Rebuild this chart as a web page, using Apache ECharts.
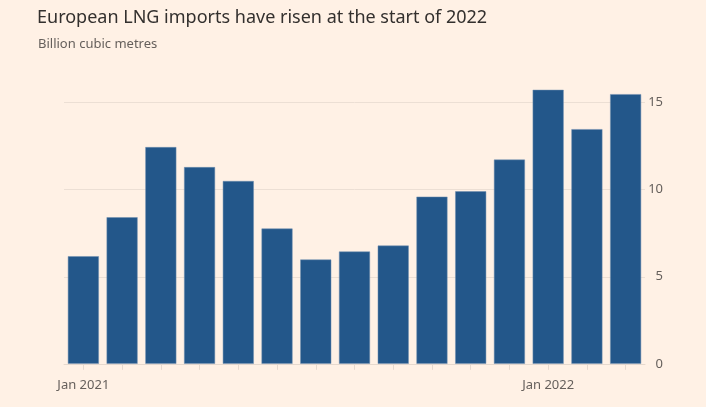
<!DOCTYPE html>
<html><head><meta charset="utf-8">
<script src="https://cdn.jsdelivr.net/npm/echarts@6/dist/echarts.min.js"></script>
<style>html,body{margin:0;padding:0;background:#fff1e5;}#c{width:706px;height:407px;}</style>
</head><body><div id="c"></div>
<script>
const categories = ['Jan 2021','Feb 2021','Mar 2021','Apr 2021','May 2021','Jun 2021','Jul 2021','Aug 2021','Sep 2021','Oct 2021','Nov 2021','Dec 2021','Jan 2022','Feb 2022','Mar 2022'];
const imports = [6.18, 8.42, 12.45, 11.3, 10.5, 7.77, 5.99, 6.45, 6.79, 9.6, 9.91, 11.73, 15.74, 13.48, 15.49];
const yTicks = [0, 5, 10, 15];
const shownXLabels = ['Jan 2021', 'Jan 2022'];

const chart = echarts.init(document.getElementById('c'));
chart.setOption({
  backgroundColor: '#fff1e5',
  animation: false,
  title: [
    {text: 'European LNG imports have risen at the start of 2022', left: 32, top: 4,
     textStyle: {fontFamily: 'Noto Sans', fontSize: 18, fontWeight: 'normal', color: '#33302e'}},
    {text: 'Billion cubic metres', left: 33, top: 33,
     textStyle: {fontFamily: 'Noto Sans', fontSize: 13, fontWeight: 'normal', color: '#66605c'}}
  ],
  grid: {left: 64, right: 61, top: 102.7, bottom: 43.2, containLabel: false},
  xAxis: {
    type: 'category', data: categories, boundaryGap: true,
    axisLine: {show: true, lineStyle: {color: '#e6d9ce', width: 1}},
    axisTick: {show: true, alignWithLabel: true, interval: 0, length: 6, lineStyle: {color: '#e6d9ce'}},
    axisLabel: {interval: 0, margin: 15, fontFamily: 'Noto Sans', fontSize: 13, color: '#66605c',
      formatter: v => shownXLabels.includes(v) ? v : ''}
  },
  yAxis: {
    type: 'value', position: 'right', min: yTicks[0], max: yTicks[yTicks.length-1], interval: 5,
    axisLine: {show: false}, axisTick: {show: false},
    splitLine: {show: true, lineStyle: {color: '#ecdfd4', width: 1}},
    axisLabel: {align: 'right', margin: 18, fontFamily: 'Noto Sans', fontSize: 13, color: '#66605c'}
  },
  series: [{
    type: 'bar', data: imports, clip: false, barCategoryGap: '20%',
    itemStyle: {color: '#23578a', borderColor: '#6f8fb0', borderWidth: 0.5}
  }]
});
</script></body></html>
